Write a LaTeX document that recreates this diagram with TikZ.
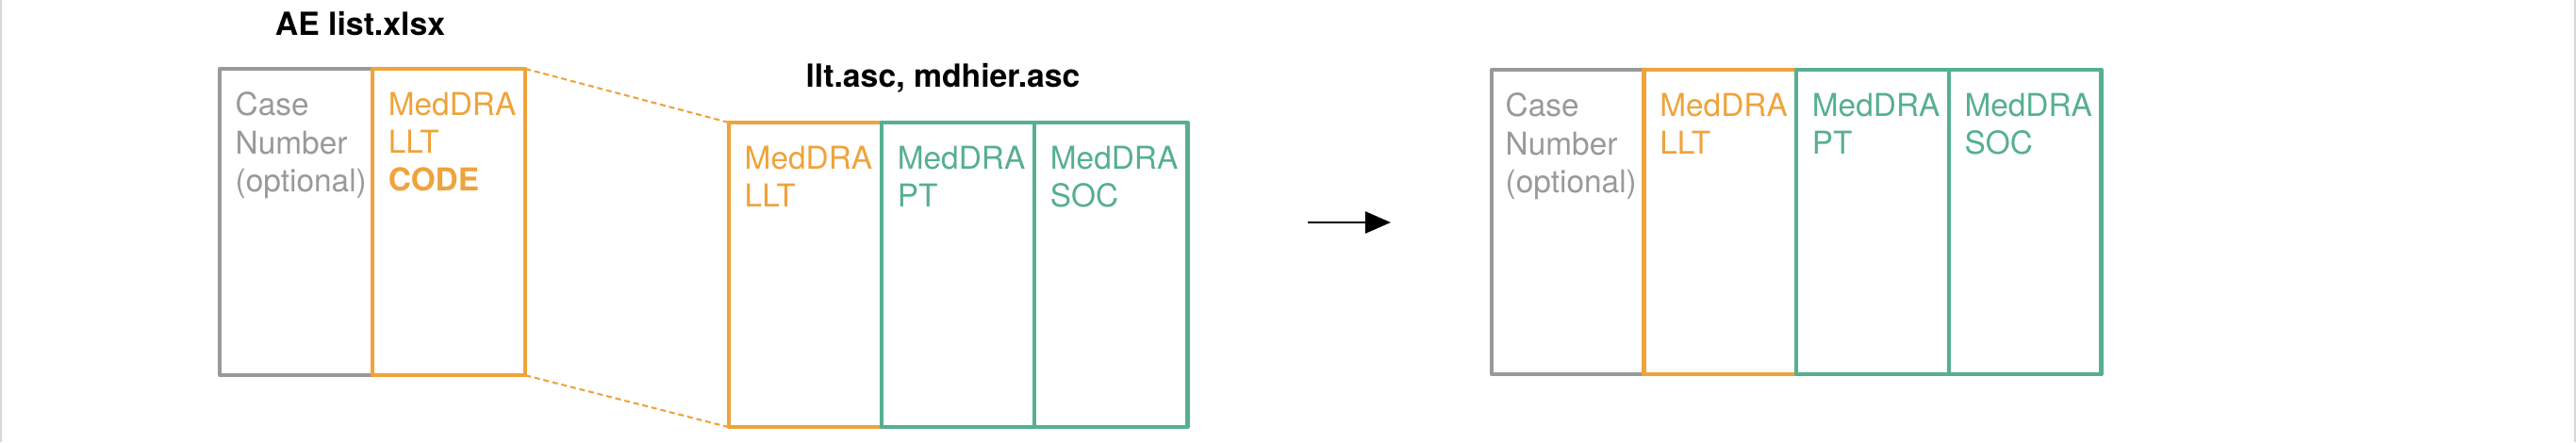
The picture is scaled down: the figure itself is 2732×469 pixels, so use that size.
\documentclass[tikz,border=0pt]{standalone}
\usepackage{fontspec}
\setmainfont{TeX Gyre Heros}
\usetikzlibrary{positioning,arrows.meta}
\definecolor{cgray}{HTML}{999999}
\definecolor{corange}{HTML}{EFA33B}
\definecolor{cgreen}{HTML}{56AF91}
\definecolor{cframe}{HTML}{D6D8DE}

\begin{document}
\begin{tikzpicture}[x=0.01cm,y=0.01cm,
    colbox/.style={draw=#1, line width=1.3pt, line join=round, inner sep=0pt, outer sep=0pt,
        minimum width=1.62cm, minimum height=3.25cm},
    coltext/.style={text=#1, anchor=north west, inner sep=0pt, align=left,
        font=\fontsize{9.5}{11.5}\selectfont},
    filetitle/.style={anchor=base, inner sep=0pt, font=\fontsize{9.6}{11.5}\selectfont\bfseries}]
    \useasboundingbox (0,0) rectangle (2732,469);
    \draw[cframe, line width=0.4pt] (1,0) -- (1,469);
    \draw[cframe, line width=0.4pt] (2731,0) -- (2731,469);

    \node[colbox=cgray, anchor=north west] (ae1) at (233,396) {};
    \node[colbox=corange, right=0pt of ae1] (ae2) {};
    \node[coltext=cgray] (ae1t) at ([shift={(16,-24)}]ae1.north west) {Case\\Number\\(optional)};
    \node[coltext=corange] (ae2t) at ([shift={(16,-24)}]ae2.north west) {MedDRA\\LLT\\\textbf{CODE}};
    \node[filetitle] (aetitle) at (382,432) {AE list.xlsx};

    \node[colbox=corange, anchor=north west, minimum height=3.23cm] (ll1) at (773,339) {};
    \node[colbox=cgreen, right=0pt of ll1, minimum height=3.23cm] (ll2) {};
    \node[colbox=cgreen, right=0pt of ll2, minimum height=3.23cm] (ll3) {};
    \node[coltext=corange] (ll1t) at ([shift={(16,-24)}]ll1.north west) {MedDRA\\LLT};
    \node[coltext=cgreen] (ll2t) at ([shift={(16,-24)}]ll2.north west) {MedDRA\\PT};
    \node[coltext=cgreen] (ll3t) at ([shift={(16,-24)}]ll3.north west) {MedDRA\\SOC};
    \node[filetitle] (lltitle) at (1000,377) {llt.asc, mdhier.asc};

    \draw[corange, line width=0.6pt, dash pattern=on 1.7pt off 1.1pt] (ae2.north east) -- (ll1.north west);
    \draw[corange, line width=0.6pt, dash pattern=on 1.7pt off 1.1pt] (ae2.south east) -- (ll1.south west);

    \coordinate (arrS) at (1387,233);
    \coordinate (arrE) at (1475,233);
    \draw[-{Triangle[length=7.7pt,width=6.5pt]}, line width=0.85pt] (arrS) -- (arrE);

    \node[colbox=cgray, anchor=north west, minimum width=1.615cm, minimum height=3.23cm] (out1) at (1582,395) {};
    \node[colbox=corange, right=0pt of out1, minimum width=1.615cm, minimum height=3.23cm] (out2) {};
    \node[colbox=cgreen, right=0pt of out2, minimum width=1.615cm, minimum height=3.23cm] (out3) {};
    \node[colbox=cgreen, right=0pt of out3, minimum width=1.615cm, minimum height=3.23cm] (out4) {};
    \node[coltext=cgray] (out1t) at ([shift={(14,-24)}]out1.north west) {Case\\Number\\(optional)};
    \node[coltext=corange] (out2t) at ([shift={(16,-24)}]out2.north west) {MedDRA\\LLT};
    \node[coltext=cgreen] (out3t) at ([shift={(16,-24)}]out3.north west) {MedDRA\\PT};
    \node[coltext=cgreen] (out4t) at ([shift={(16,-24)}]out4.north west) {MedDRA\\SOC};
\end{tikzpicture}
\end{document}
